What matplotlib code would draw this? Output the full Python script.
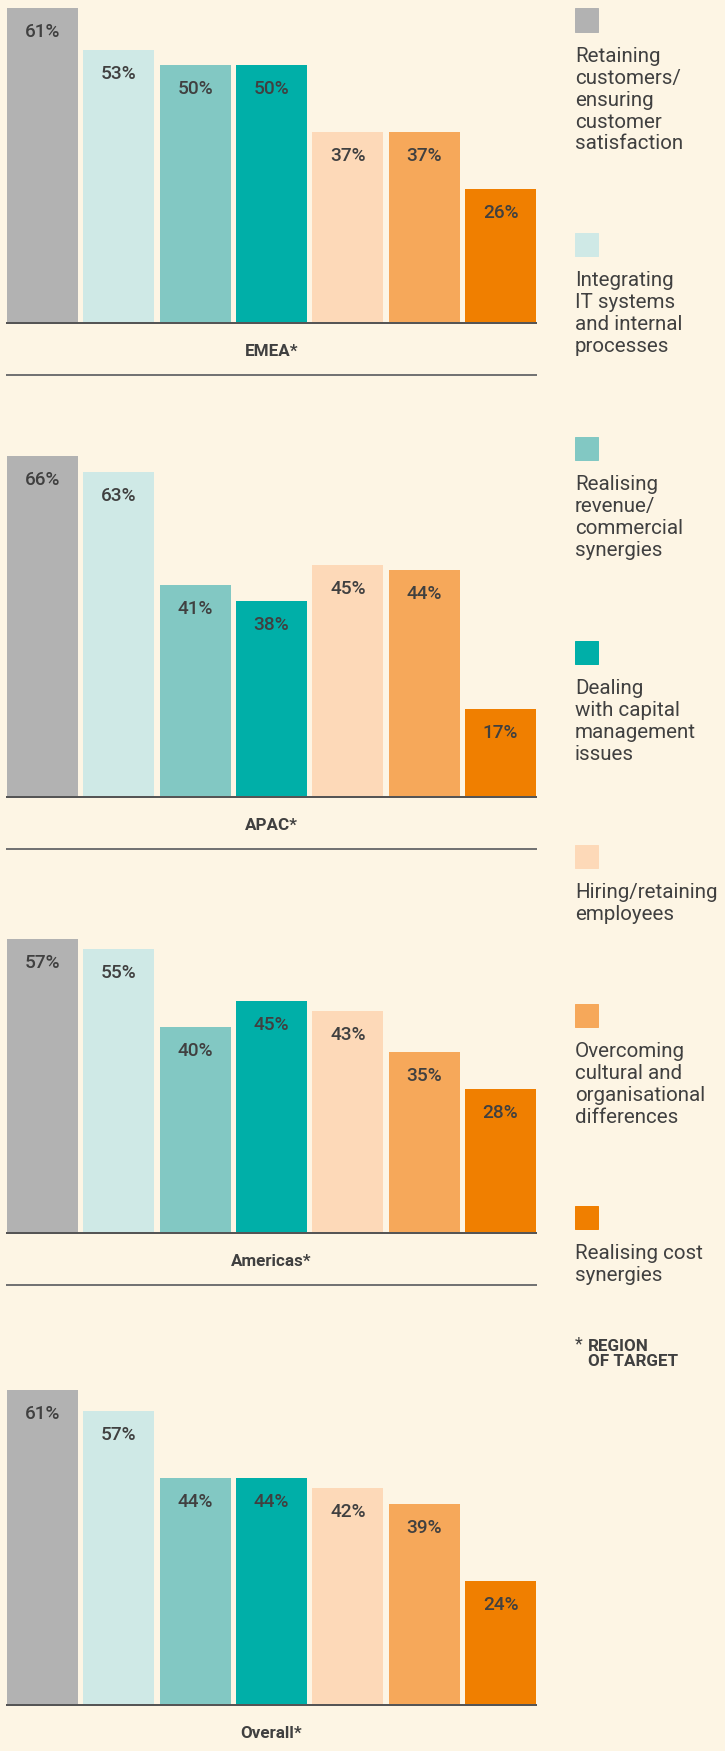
import matplotlib
matplotlib.use("Agg")
from matplotlib import pyplot as plt
from matplotlib.patches import Rectangle

## Data ##
regions = ["EMEA*", "APAC*", "Americas*", "Overall*"]
emea = [61, 53, 50, 50, 37, 37, 26]
apac = [66, 63, 41, 38, 45, 44, 17]
americas = [57, 55, 40, 45, 43, 35, 28]
overall = [61, 57, 44, 44, 42, 39, 24]
region_values = [emea, apac, americas, overall]

categories = [
    "Retaining\ncustomers/\nensuring\ncustomer\nsatisfaction",
    "Integrating\nIT systems\nand internal\nprocesses",
    "Realising\nrevenue/\ncommercial\nsynergies",
    "Dealing\nwith capital\nmanagement\nissues",
    "Hiring/retaining\nemployees",
    "Overcoming\ncultural and\norganisational\ndifferences",
    "Realising cost\nsynergies",
]
colors = ["#b2b2b2", "#cfe9e6", "#82c8c3", "#00afa8", "#fdd9b8", "#f6a85a", "#f07f00"]

## Layout (pixels) ##
W, H = 725, 1751
DPI = 72
BG = "#fdf5e4"
TXT = "#404040"
PX_PER_PCT = 5.16
ax_left, ax_right = 7, 536
baselines = [323, 797, 1233, 1705]
tops = [0, 400, 880, 1330]
legend_y = [20, 244, 448, 652, 856, 1015, 1217]

plt.rcParams['font.family'] = ['Roboto', 'DejaVu Sans']

fig = plt.figure(figsize=(W / DPI, H / DPI), dpi=DPI)
fig.patch.set_facecolor(BG)


# pixel (from top-left) -> figure fraction
def fx(x):
    return x / W


def fy(y):
    return 1 - y / H


for name, vals, base, top in zip(regions, region_values, baselines, tops):
    ax = fig.add_axes([fx(ax_left), fy(base), (ax_right - ax_left) / W, (base - top) / H])
    ax.set_facecolor("none")
    x = range(len(vals))
    ax.bar(x, vals, width=0.93, color=colors)
    ax.set_xlim(-0.465, len(vals) - 1 + 0.465)
    ax.set_ylim(0, (base - top) / PX_PER_PCT)
    for s in ["top", "left", "right"]:
        ax.spines[s].set_visible(False)
    ax.spines["bottom"].set_color("#555555")
    ax.spines["bottom"].set_linewidth(2)
    ax.set_xticks([])
    ax.set_yticks([])
    for i, v in enumerate(vals):
        ax.annotate(f"{v}%", xy=(i, v), xytext=(0, -24), textcoords="offset points",
                    ha="center", va="center", fontsize=19, color=TXT, fontweight="medium")
    # region name and separator under the baseline
    ax.annotate(name, xy=(0.5, 0), xycoords="axes fraction", xytext=(0, -29),
                textcoords="offset points", ha="center", va="center",
                fontsize=17, fontweight="bold", color=TXT)
    sep_y = base + 52
    fig.add_artist(plt.Line2D([fx(ax_left), fx(ax_right)], [fy(sep_y), fy(sep_y)],
                              color="#737373", lw=2))

# legend down the right side
for lab, col, cy in zip(categories, colors, legend_y):
    fig.add_artist(Rectangle((fx(575), fy(cy + 11.5)), 23 / W, 23 / H,
                             transform=fig.transFigure, color=col))
    fig.text(fx(575), fy(cy + 27), lab, ha="left", va="top", fontsize=20.5,
             color=TXT, linespacing=1.19)

fig.text(fx(575), fy(1344), "*", ha="left", va="center", fontsize=18, color=TXT)
fig.text(fx(588), fy(1354), "REGION\nOF TARGET", ha="left", va="center",
         fontsize=17, fontweight="bold", color=TXT, linespacing=1.0)

plt.savefig("out.png", dpi=DPI, facecolor=BG)
plt.close()
